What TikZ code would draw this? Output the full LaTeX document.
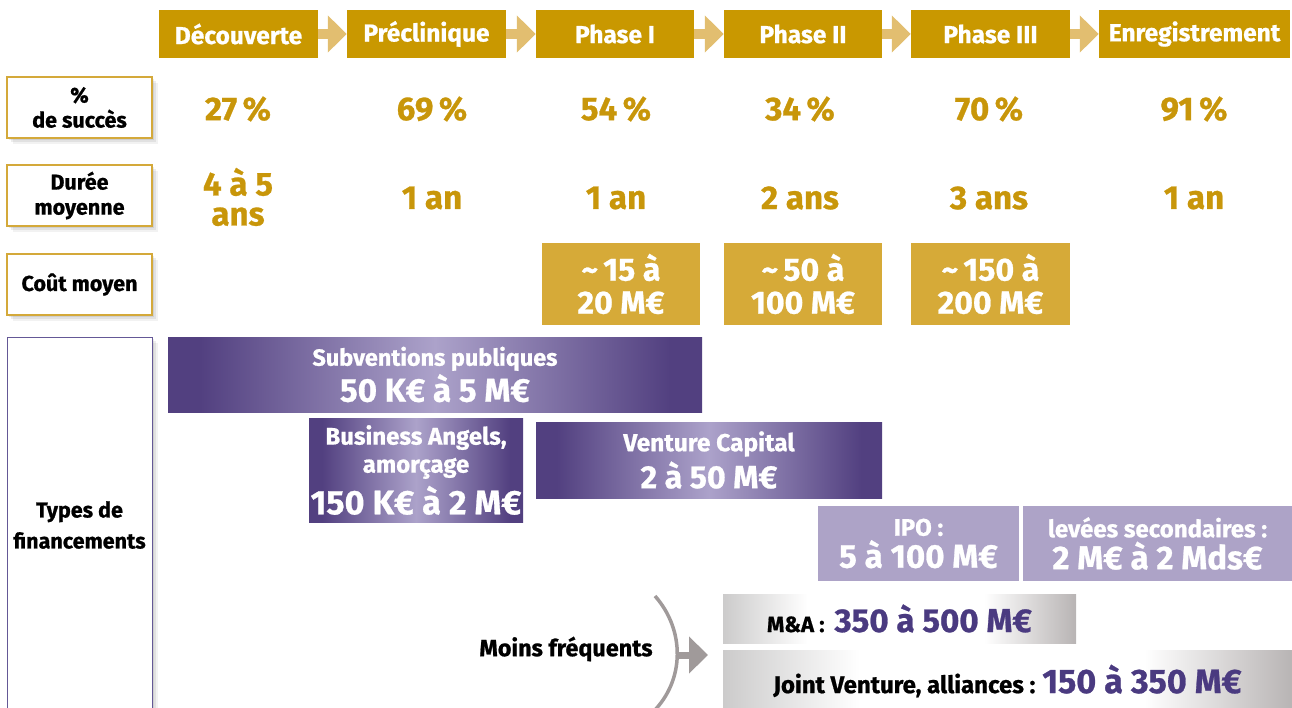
\documentclass[tikz,border=0pt]{standalone}
\usepackage{fontspec}
\setmainfont{Fira Sans}[BoldFeatures={FakeBold=0.8}]
\usetikzlibrary{arrows.meta,shadows}
\definecolor{hgold}{RGB}{201,152,0}
\definecolor{agold}{RGB}{226,190,112}
\definecolor{cgold}{RGB}{214,170,56}
\definecolor{vgold}{RGB}{200,150,10}
\definecolor{bgold}{RGB}{212,169,58}
\definecolor{pdark}{RGB}{82,64,128}
\definecolor{plight}{RGB}{172,162,202}
\definecolor{pipo}{RGB}{173,163,199}
\definecolor{ptext}{RGB}{74,58,128}
\definecolor{pborder}{RGB}{100,88,150}
\definecolor{garc}{RGB}{160,154,154}
\definecolor{gl}{RGB}{204,203,203}
\definecolor{gr}{RGB}{184,180,180}
\pgfdeclarehorizontalshading{purpsh}{100bp}{color(0bp)=(pdark); color(25bp)=(pdark); color(28bp)=(pdark); color(50bp)=(plight); color(72bp)=(pdark); color(75bp)=(pdark); color(100bp)=(pdark)}
\pgfdeclarehorizontalshading{graysh}{100bp}{color(0bp)=(gl); color(25bp)=(gl); color(37bp)=(white); color(62bp)=(white); color(75bp)=(gr); color(100bp)=(gr)}
\newcommand\fsz[2]{\fontsize{#1}{#2}\selectfont}
\tikzset{
  hdr/.style={fill=hgold, text=white, inner sep=0pt, minimum height=48pt, font=\bfseries\fsz{24.5}{28}},
  harrow/.style={draw=agold, line width=10pt, -{Triangle[width=36pt,length=19pt,fill=agold]}},
  softshadow/.style={drop shadow={shadow xshift=2pt, shadow yshift=-2pt, opacity=.08, fill=black},
     drop shadow={shadow xshift=4pt, shadow yshift=-4pt, opacity=.07, fill=black},
     drop shadow={shadow xshift=6pt, shadow yshift=-6pt, opacity=.05, fill=black}},
  lbl/.style={draw=bgold, line width=1.3pt, fill=white, inner sep=0pt, minimum width=145pt, minimum height=61pt, align=center, font=\bfseries\fsz{21.5}{25}, softshadow},
  val/.style={text=vgold, inner sep=0pt, align=center, font=\bfseries\fsz{33}{30}},
  cost/.style={fill=cgold, text=white, inner sep=0pt, minimum height=82pt, align=center, font=\bfseries\fsz{32}{33}},
  purp/.style={shading=purpsh, text=white, inner sep=0pt, align=center},
  ipo/.style={fill=pipo, text=white, inner sep=0pt, align=center, minimum height=75pt},
  gbox/.style={shading=graysh, inner sep=0pt, align=center, font=\bfseries},
  garrow/.style={draw=garc, line width=7pt, -{Triangle[width=36pt,length=19pt,fill=garc]}},
}
\begin{document}
\begin{tikzpicture}[x=1pt,y=-1pt]
\useasboundingbox (0,0) rectangle (1292,708);
% header
\node[hdr, minimum width=159pt] (h1) at (238.5,34) {Découverte};
\node[hdr, minimum width=159pt] (h2) at (426.5,34) {Préclinique};
\node[hdr, minimum width=158pt] (h3) at (615,34) {Phase I};
\node[hdr, minimum width=158pt] (h4) at (803,34) {Phase II};
\node[hdr, minimum width=159pt] (h5) at (990.5,34) {Phase III};
\node[hdr, minimum width=191pt] (h6) at (1194.5,34) {Enregistrement};
\draw[harrow] (h1.east) -- (h2.west);
\draw[harrow] (h2.east) -- (h3.west);
\draw[harrow] (h3.east) -- (h4.west);
\draw[harrow] (h4.east) -- (h5.west);
\draw[harrow] (h5.east) -- (h6.west);
% left labels
\node[lbl] (l1) at (79.5,107.5) {\%\\de succès};
\node[lbl] (l2) at (79.5,195.5) {Durée\\moyenne};
\node[lbl] (l3) at (79.5,284.5) {Coût moyen};
\node[lbl, draw=pborder, line width=1pt, minimum height=376pt, font=\bfseries\fsz{21.5}{31}] (l4) at (79.5,525) {Types de\\financements};
% success
\node[val] (s1) at (238,109) {27\,\%};
\node[val] (s2) at (432,109) {69\,\%};
\node[val] (s3) at (616,109) {54\,\%};
\node[val] (s4) at (800,109) {34\,\%};
\node[val] (s5) at (989,109) {70\,\%};
\node[val] (s6) at (1194,109) {91\,\%};
% duration
\node[val] (d1) at (238,197) {4 à 5\\ans};
\node[val] (d2) at (432,198) {1 an};
\node[val] (d3) at (616,198) {1 an};
\node[val] (d4) at (800,198) {2 ans};
\node[val] (d5) at (989,198) {3 ans};
\node[val] (d6) at (1194,198) {1 an};
% cost
\node[cost, minimum width=158pt] (c1) at (621,284) {\textasciitilde\,15 à\\20 M€};
\node[cost, minimum width=158pt] (c2) at (803,284) {\textasciitilde\,50 à\\100 M€};
\node[cost, minimum width=159pt] (c3) at (990.5,284) {\textasciitilde\,150 à\\200 M€};
% financing
\node[purp, minimum width=534pt, minimum height=75pt, font=\bfseries\fsz{23.4}{36}] (sub) at (435,374.5)
  {Subventions publiques\\{\fsz{33}{36}50 K€ à 5 M€}};
\node[purp, minimum width=214pt, minimum height=104pt, font=\bfseries\fsz{24}{28}] (ba) at (416,470)
  {Business Angels,\\amorçage\\[6pt]{\fsz{34}{30}150 K€ à 2 M€}};
\node[purp, minimum width=346pt, minimum height=76pt, font=\bfseries\fsz{24.5}{37}] (vc) at (709,460)
  {Venture Capital\\{\fsz{32}{37}2 à 50 M€}};
\node[ipo, minimum width=201pt, font=\bfseries\fsz{24}{32}] (ipo) at (918.5,543.5)
  {IPO :\\{\fsz{33}{32}5 à 100 M€}};
\node[ipo, minimum width=269pt, font=\bfseries\fsz{24}{32}] (lev) at (1157.5,543.5)
  {levées secondaires :\\{\fsz{33}{32}2 M€ à 2 Mds€}};
\node[gbox, minimum width=353pt, minimum height=49pt] (ma) at (899.5,618.5)
  {{\fsz{22}{24}M\&A :\hspace{10pt}}{\fsz{33}{30}\color{ptext}350 à 500 M€}};
\node[gbox, minimum width=569pt, minimum height=62pt] (jv) at (1007.5,681)
  {{\fsz{24}{24}Joint Venture, alliances :\hspace{7pt}}{\fsz{34}{30}\color{ptext}150 à 350 M€}};
\node[inner sep=0pt, font=\bfseries\fsz{23.4}{24}] (mf) at (566,649) {Moins fréquents};
\coordinate (arctop) at (655,596);
\coordinate (arcbot) at (653,712);
\coordinate (arcmid) at (677,655);
\coordinate (tip) at (708,655);
\draw[garc, line width=3.5pt] (arctop) .. controls (685,630) and (685,680) .. (arcbot);
\draw[garrow] (arcmid) -- (tip);
\end{tikzpicture}
\end{document}
